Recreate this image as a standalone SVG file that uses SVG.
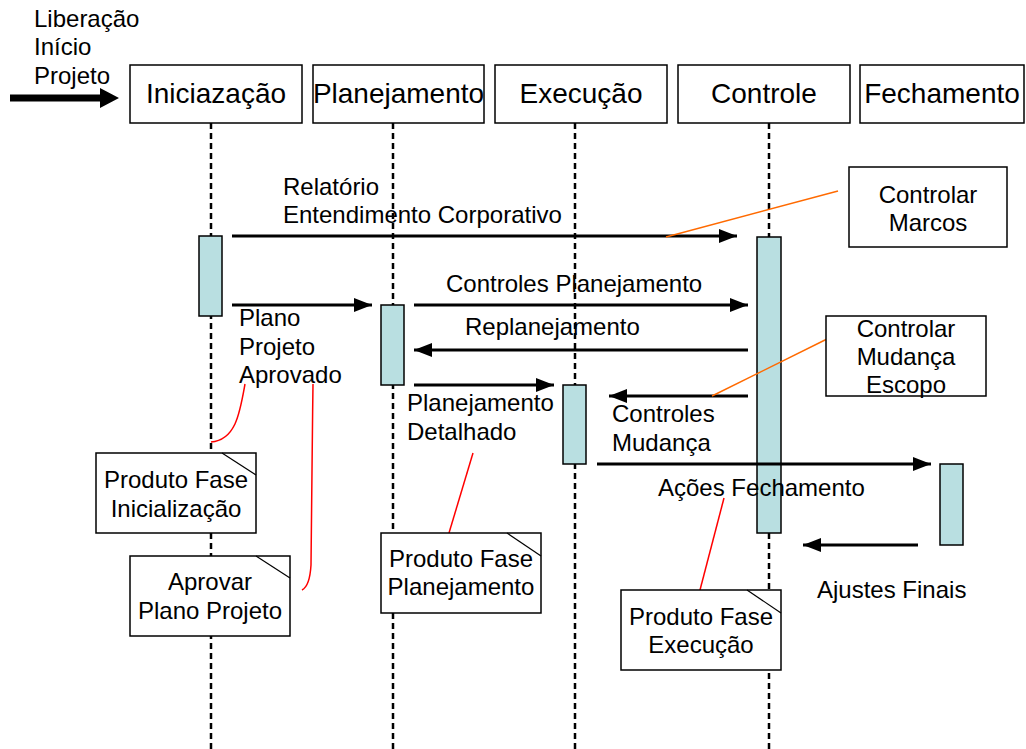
<svg xmlns="http://www.w3.org/2000/svg" width="1026" height="749" viewBox="0 0 1026 749">
  <style>
    text { font-family: "Liberation Sans", Arial, sans-serif; fill: #000; }
    .hdr { font-size: 28px; text-anchor: middle; }
    .lbl { font-size: 24px; }
    .ctr { font-size: 24px; text-anchor: middle; }
    .box { fill: #fff; stroke: #000; stroke-width: 1.5; }
    .life { stroke: #000; stroke-width: 2.5; stroke-dasharray: 6 4; fill: none; }
    .act { fill: #B9DFE1; stroke: #000; stroke-width: 1.5; }
    .msg { stroke: #000; stroke-width: 3; fill: none; marker-end: url(#head); }
    .fold { stroke: #000; stroke-width: 1.2; fill: none; }
    .red { stroke: #FF0000; stroke-width: 1.5; fill: none; }
    .orange { stroke: #FF6A00; stroke-width: 1.5; fill: none; }
  </style>
  <defs>
    <marker id="head" viewBox="0 0 18 14" refX="18" refY="7" markerWidth="18" markerHeight="14" markerUnits="userSpaceOnUse" orient="auto">
      <path d="M0,0 L18,7 L0,14 Z" fill="#000"/>
    </marker>
  </defs>

  <!-- lifelines -->
  <g id="lifelines">
    <line class="life" x1="211" y1="123" x2="211" y2="749"/>
    <line class="life" x1="393" y1="123" x2="393" y2="749"/>
    <line class="life" x1="575" y1="123" x2="575" y2="749"/>
    <line class="life" x1="769" y1="123" x2="769" y2="749"/>
  </g>

  <!-- start trigger -->
  <g id="start">
    <path d="M10,94.5 L100,94.5 L100,88 L119,98 L100,108 L100,101.5 L10,101.5 Z" fill="#000"/>
    <text class="lbl" x="34" y="27">Liberação</text>
    <text class="lbl" x="34" y="55">Início</text>
    <text class="lbl" x="34" y="84">Projeto</text>
  </g>

  <!-- phase headers -->
  <g id="iniciazacao">
    <rect class="box" x="130" y="65" width="172" height="58"/>
    <text class="hdr" x="216" y="103">Iniciazação</text>
  </g>
  <g id="planejamento">
    <rect class="box" x="313" y="65" width="171" height="58"/>
    <text class="hdr" x="398.5" y="103">Planejamento</text>
  </g>
  <g id="execucao">
    <rect class="box" x="495" y="65" width="172" height="58"/>
    <text class="hdr" x="581" y="103">Execução</text>
  </g>
  <g id="controle">
    <rect class="box" x="678" y="65" width="172" height="58"/>
    <text class="hdr" x="764" y="103">Controle</text>
  </g>
  <g id="fechamento">
    <rect class="box" x="860" y="65" width="164" height="58"/>
    <text class="hdr" x="942" y="103">Fechamento</text>
  </g>

  <!-- activation bars -->
  <g id="activations">
    <rect class="act" x="199" y="236" width="23" height="80"/>
    <rect class="act" x="381" y="305" width="23" height="80"/>
    <rect class="act" x="563" y="385" width="23" height="79"/>
    <rect class="act" x="757" y="237" width="24" height="296"/>
    <rect class="act" x="940" y="464" width="23" height="81"/>
  </g>

  <!-- messages -->
  <g id="connectors">
    <line class="msg" x1="232" y1="236" x2="737" y2="236"/>
    <line class="msg" x1="232" y1="305" x2="372" y2="305"/>
    <line class="msg" x1="414" y1="305" x2="748" y2="305"/>
    <line class="msg" x1="748" y1="350" x2="414" y2="350"/>
    <line class="msg" x1="414" y1="385" x2="554" y2="385"/>
    <line class="msg" x1="748" y1="396" x2="609" y2="396"/>
    <line class="msg" x1="597" y1="464" x2="931" y2="464"/>
    <line class="msg" x1="918" y1="545" x2="803" y2="545"/>

    <!-- note anchors -->
    <path class="orange" d="M666,237 L838,191"/>
    <path class="orange" d="M712,396 L827,339"/>
    <path class="red" d="M245,384 C240,412 236,440 211,442"/>
    <path class="red" d="M313,384 C312,450 312,520 311,565 C310,582 306,588 302,590"/>
    <path class="red" d="M473,453 L449,533"/>
    <path class="red" d="M724,498 L700,590"/>
  </g>

  <!-- message labels -->
  <g id="labels">
    <text class="lbl" x="283" y="195">Relatório</text>
    <text class="lbl" x="283" y="223">Entendimento Corporativo</text>
    <text class="lbl" x="239" y="326">Plano</text>
    <text class="lbl" x="239" y="355">Projeto</text>
    <text class="lbl" x="239" y="383">Aprovado</text>
    <text class="lbl" x="446" y="292">Controles Planejamento</text>
    <text class="lbl" x="465" y="335">Replanejamento</text>
    <text class="lbl" x="407" y="411">Planejamento</text>
    <text class="lbl" x="407" y="440">Detalhado</text>
    <text class="lbl" x="612" y="422">Controles</text>
    <text class="lbl" x="612" y="451">Mudança</text>
    <text class="lbl" x="658" y="496">Ações Fechamento</text>
    <text class="lbl" x="817" y="598">Ajustes Finais</text>
  </g>

  <!-- notes -->
  <g id="note-controlar-marcos">
    <rect class="box" x="849" y="167" width="158" height="80"/>
    <text class="ctr" x="928" y="203">Controlar</text>
    <text class="ctr" x="928" y="231">Marcos</text>
  </g>
  <g id="note-controlar-mudanca">
    <rect class="box" x="826" y="316" width="160" height="80"/>
    <text class="ctr" x="906" y="337">Controlar</text>
    <text class="ctr" x="906" y="365">Mudança</text>
    <text class="ctr" x="906" y="393">Escopo</text>
  </g>
  <g id="note-produto-inicializacao">
    <rect class="box" x="96" y="453" width="160" height="80"/>
    <path class="fold" d="M222,453 L256,475"/>
    <text class="ctr" x="176" y="488">Produto Fase</text>
    <text class="ctr" x="176" y="517">Inicialização</text>
  </g>
  <g id="note-aprovar-plano">
    <rect class="box" x="130" y="556" width="160" height="80"/>
    <path class="fold" d="M256,556 L290,578"/>
    <text class="ctr" x="210" y="590">Aprovar</text>
    <text class="ctr" x="210" y="619">Plano Projeto</text>
  </g>
  <g id="note-produto-planejamento">
    <rect class="box" x="381" y="533" width="160" height="80"/>
    <path class="fold" d="M507,533 L541,556"/>
    <text class="ctr" x="461" y="567">Produto Fase</text>
    <text class="ctr" x="461" y="595">Planejamento</text>
  </g>
  <g id="note-produto-execucao">
    <rect class="box" x="621" y="590" width="160" height="80"/>
    <path class="fold" d="M747,590 L781,613"/>
    <text class="ctr" x="701" y="625">Produto Fase</text>
    <text class="ctr" x="701" y="653">Execução</text>
  </g>
</svg>
